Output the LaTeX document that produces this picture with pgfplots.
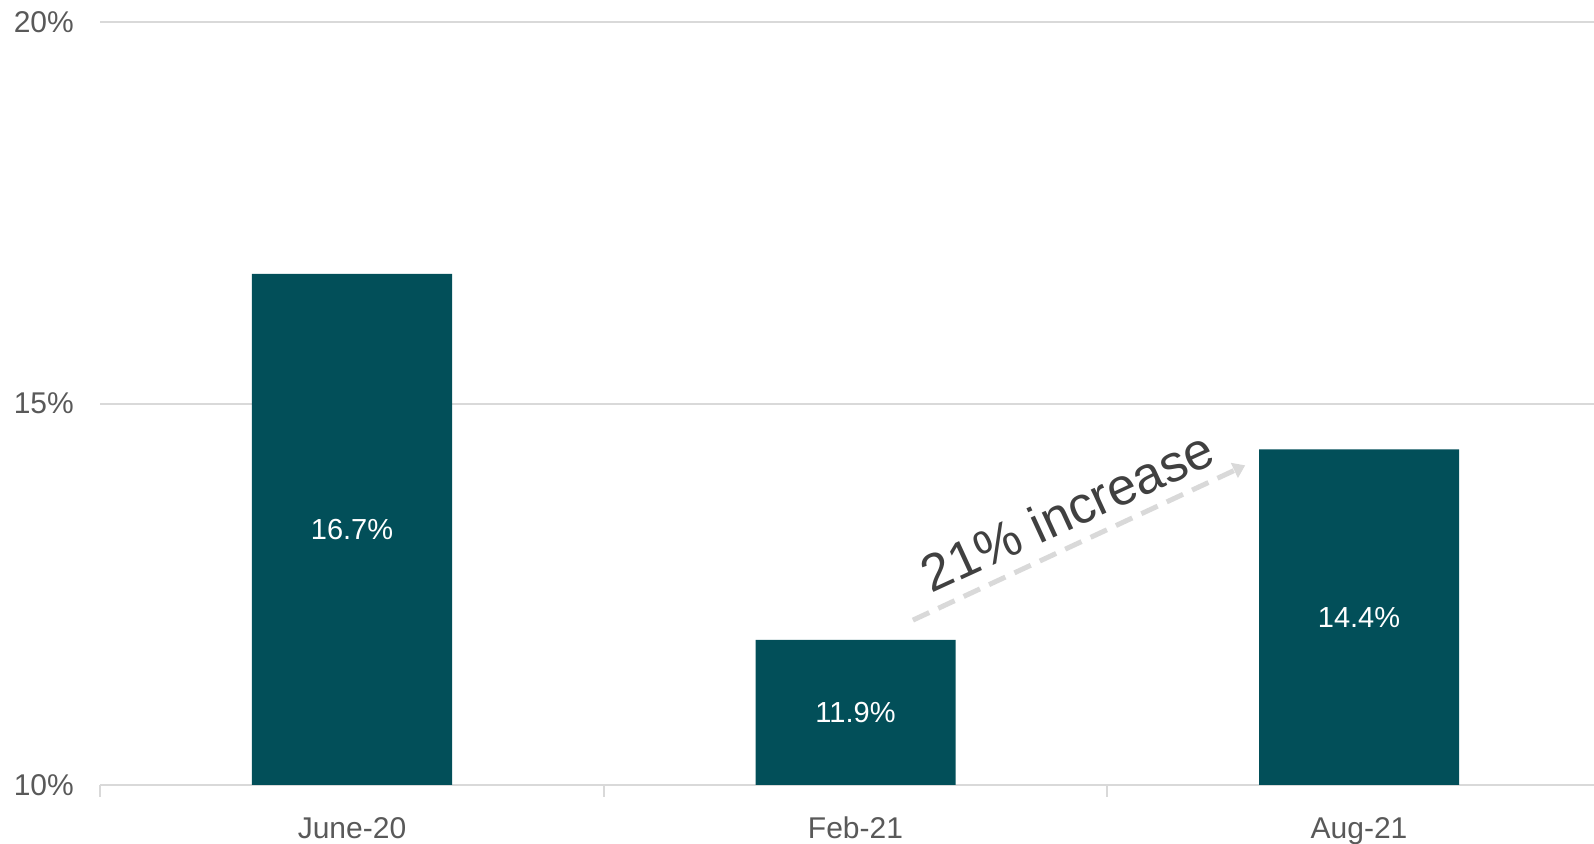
\documentclass[border=0pt]{standalone}
\usepackage{pgfplots}
\pgfplotsset{compat=1.18}
\usepackage{fontspec}
\setmainfont{Liberation Sans}
\usetikzlibrary{arrows.meta}
\definecolor{barteal}{HTML}{024F59}
\definecolor{gridgray}{HTML}{D9D9D9}
\definecolor{ticktext}{HTML}{595959}
\definecolor{annot}{HTML}{404040}
\begin{document}
\begin{tikzpicture}
\begin{axis}[
  at={(0,0)}, anchor=south west,
  scale only axis,
  width=755.25pt, height=381.2pt,
  xmin=-0.5, xmax=2.5,
  ymin=10, ymax=20,
  axis x line*=bottom, axis y line*=left,
  axis line style={draw=none},
  xtick={0,1,2},
  xticklabels={June-20,Feb-21,Aug-21},
  minor xtick={-0.5,0.5,1.5,2.5},
  ytick={10,15,20},
  yticklabels={10\%,15\%,20\%},
  major tick length=0pt,
  minor tick length=6pt,
  tick align=outside,
  tick style={draw=gridgray, line width=1pt},
  ymajorgrids,
  grid style={draw=gridgray, line width=1pt},
  xticklabel style={font=\fontsize{15}{18}\selectfont, text=ticktext, anchor=north, inner sep=0pt, yshift=-16pt},
  yticklabel style={font=\fontsize{15}{18}\selectfont, text=ticktext, anchor=east, inner sep=0pt, xshift=-13pt},
  /pgf/number format/assume math mode=true,
]
\addplot[ybar, fill=barteal, draw=none, bar width=100pt] coordinates {(0,16.7) (1,11.9) (2,14.4)};
\node[text=white, font=\fontsize{14.5}{17}\selectfont] at (axis cs:0,13.35) {16.7\%};
\node[text=white, font=\fontsize{14.5}{17}\selectfont] at (axis cs:1,10.95) {11.9\%};
\node[text=white, font=\fontsize{14.5}{17}\selectfont] at (axis cs:2,12.2) {14.4\%};
\draw[draw=gridgray, line width=2.5pt, dash pattern=on 9pt off 5pt, -{Triangle[length=6pt,width=8pt]}]
  (axis cs:1.114,12.16) -- (axis cs:1.774,14.19);
\node[text=annot, font=\fontsize{26}{30}\selectfont, rotate=24.7, anchor=base, inner sep=0pt] at (axis cs:1.436,13.37) {21\% increase};
\end{axis}
\pgfresetboundingbox
\path[use as bounding box] (-50.125pt,-29.1pt) rectangle (746.875pt,392.4pt);
\end{tikzpicture}
\end{document}
